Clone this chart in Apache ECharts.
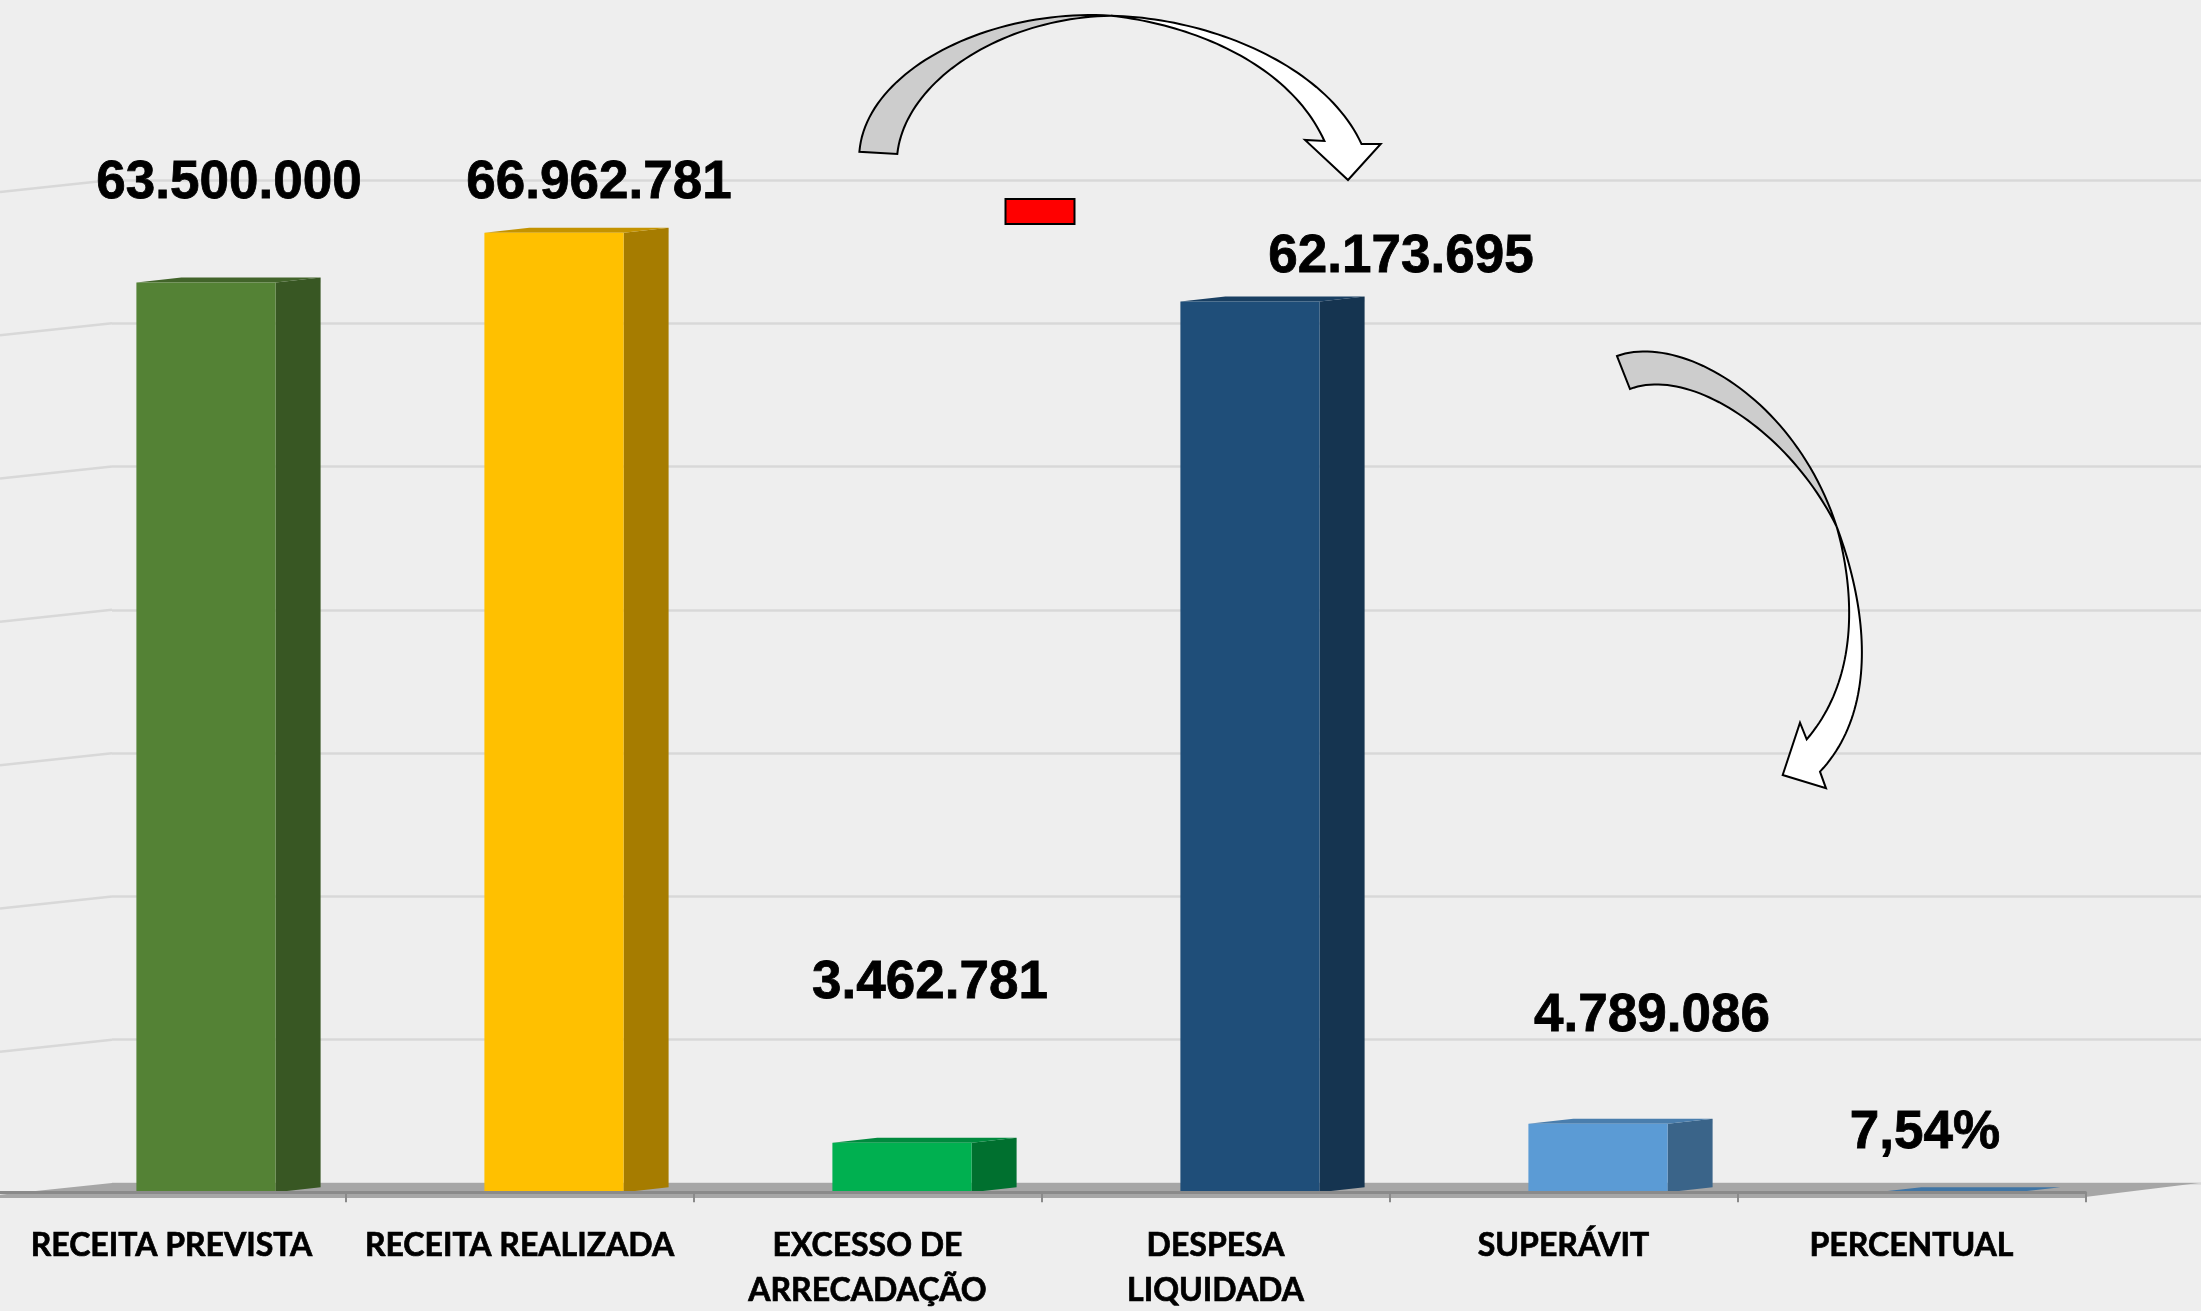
<!DOCTYPE html>
<html><head><meta charset="utf-8">
<style>html,body{margin:0;padding:0;background:#EEEEEE}#c{width:2201px;height:1311px}</style>
<script src="https://cdn.jsdelivr.net/npm/echarts@6/dist/echarts.min.js"></script>
</head><body><div id="c"></div>
<script>
// ---- data ----
const categories = ['RECEITA PREVISTA','RECEITA REALIZADA','EXCESSO DE\nARRECADAÇÃO','DESPESA\nLIQUIDADA','SUPERÁVIT','PERCENTUAL'];
const values = [63500000, 66962781, 3462781, 62173695, 4789086, 7.54];
const valueLabels = ['63.500.000','66.962.781','3.462.781','62.173.695','4.789.086','7,54%'];
const wallTicks = [0,10000000,20000000,30000000,40000000,50000000,60000000,70000000];

// ---- style / layout ----
const frontColors = ['#548235','#FFC000','#00B050','#1F4E79','#5B9BD5','#3F75A5'];
const sideColors  = ['#385723','#A67C00','#00702F','#153450','#3A6489','#3F75A5'];
const topColors   = ['#42642A','#C49300','#008A3E','#193F62','#4A7EAD','#3F75A5'];
const labelCenters = [[229,183],[599,183],[930,983],[1401,257],[1652,1016],[1925,1133]];
const DEPTH_X = 45, DEPTH_Y = 5, BAR_SHIFT = 34.5, BAR_RATIO = 0.4;
const WALL_DX = 112, WALL_DY = 12, FLOOR_DY = 12;

function bez(p0,p1,p2,p3){
  const out=[];
  for(let k=0;k<=48;k++){
    const t=k/48,u=1-t;
    out.push([0,1].map(j=>u*u*u*p0[j]+3*u*u*t*p1[j]+3*u*t*t*p2[j]+t*t*t*p3[j]));
  }
  return out;
}
function arrowShape(points,fill){
  return {type:'polygon',z:20,silent:true,shape:{points},style:{fill,stroke:'#000',lineWidth:2,lineJoin:'miter'}};
}
// first arrow
const a1Cross=[1111,15.7];
const a1GrayOuter=bez([859.4,151.7],[866,70],[990,8],a1Cross);
const a1GrayInner=bez(a1Cross,[1000,18],[905,82],[897.3,154]);
const a1WhiteOuter=bez(a1Cross,[1210,18],[1325,65],[1361.5,144]);
const a1Head=[[1380.7,144],[1348,180],[1305,140],[1324.4,141]];
const a1WhiteInner=bez([1324.4,141],[1290,65],[1195,25],a1Cross);
// second arrow
const a2Cross=[1836.7,526.7];
const a2GrayOuter=bez([1617,356],[1680,333],[1795,398],a2Cross);
const a2GrayInner=bez(a2Cross,[1790,432],[1690,366],[1630,389]);
const a2WhiteOuter=bez(a2Cross,[1868,610],[1878,710],[1820,771.7]);
const a2Head=[[1826,788.3],[1782.7,775],[1800,722.7],[1806.7,739.3]];
const a2WhiteInner=bez([1806.7,739.3],[1862,675],[1853,585],a2Cross);

const chart = echarts.init(document.getElementById('c'),null,{renderer:'canvas',width:2201,height:1311});

function renderWall(params,api){
  const v=api.value(0), p=api.coord([0,v]), x0=params.coordSys.x, x1=x0+params.coordSys.width;
  const children=[];
  if(v===0){
    const y=p[1];
    children.push({type:'polygon',shape:{points:[[-3,y+FLOOR_DY],[x0,y],[x1-2,y],[2085,y+FLOOR_DY+2],[2085,y+FLOOR_DY+3],[-3,y+FLOOR_DY+3]]},style:{fill:'#A6A6A6'}});
  } else {
    children.push({type:'line',shape:{x1:x0,y1:p[1],x2:x0-WALL_DX,y2:p[1]+WALL_DY},style:{stroke:'#D8D8D8',lineWidth:2.5}});
  }
  return {type:'group',children};
}
function renderBar(params,api){
  const i=api.value(0), base=api.coord([i,0]), top=api.coord([i,api.value(1)]);
  const w=api.size([1,0])[0]*BAR_RATIO;
  const l=base[0]+BAR_SHIFT-w/2, r=l+w, yT=top[1], yB=base[1];
  return {type:'group',children:[
    {type:'polygon',shape:{points:[[r,yT],[r+DEPTH_X,yT-DEPTH_Y],[r+DEPTH_X,yB-DEPTH_Y],[r,yB]]},style:{fill:sideColors[i]}},
    {type:'polygon',shape:{points:[[l,yT],[l+DEPTH_X,yT-DEPTH_Y],[r+DEPTH_X,yT-DEPTH_Y],[r,yT]]},style:{fill:topColors[i]}},
    {type:'rect',shape:{x:l,y:yT,width:w,height:yB-yT},style:{fill:frontColors[i]}}
  ]};
}
function renderLabel(params,api){
  const i=api.value(0);
  return {type:'text',z2:50,style:{text:valueLabels[i],x:labelCenters[i][0],y:labelCenters[i][1],fill:'#000',
    stroke:'#000',lineWidth:0.8,
    font:'bold 53px "Liberation Sans", Arial, sans-serif',align:'center',verticalAlign:'middle'}};
}

chart.setOption({
  animation:false,
  backgroundColor:'#EEEEEE',
  grid:[
    {left:WALL_DX,right:0,top:180,height:1003,outerBoundsMode:'none'},
    {left:-2.5,width:2088,top:189.3,height:1003,outerBoundsMode:'none'}
  ],
  xAxis:[
    {gridIndex:0,type:'category',data:categories,show:false},
    {gridIndex:1,type:'category',data:categories,offset:5,z:5,
     axisLine:{show:true,lineStyle:{color:'#8A8A8A',width:3}},
     axisTick:{show:true,alignWithLabel:false,length:10,lineStyle:{color:'#8A8A8A',width:2}},
     axisLabel:{interval:0,margin:26,color:'#000',fontFamily:'Lato',fontWeight:'bold',fontSize:32,lineHeight:45,hideOverlap:false,
       textBorderColor:'#000',textBorderWidth:0.7}}
  ],
  yAxis:[
    {gridIndex:0,type:'value',min:0,max:70000000,interval:10000000,
     axisLine:{show:false},axisTick:{show:false},axisLabel:{show:false},
     splitLine:{show:true,lineStyle:{color:'#D8D8D8',width:2.5}}},
    {gridIndex:1,type:'value',min:0,max:70000000,interval:10000000,show:false,splitLine:{show:false}}
  ],
  series:[
    {type:'custom',name:'wall',xAxisIndex:0,yAxisIndex:0,silent:true,clip:false,z:1,renderItem:renderWall,
     data:wallTicks.map(v=>[v]),encode:{y:0}},
    {type:'custom',name:'barras',xAxisIndex:1,yAxisIndex:1,clip:false,z:3,renderItem:renderBar,
     data:values.map((v,i)=>[i,v]),encode:{x:0,y:1}},
    {type:'custom',name:'rotulos',xAxisIndex:1,yAxisIndex:1,clip:false,z:10,renderItem:renderLabel,
     data:values.map((v,i)=>[i,v]),encode:{x:0,y:1}}
  ],
  graphic:{elements:[
    {type:'rect',z:20,silent:true,shape:{x:1005.5,y:199,width:69,height:25},style:{fill:'#FF0000',stroke:'#000',lineWidth:2}},
    arrowShape(a1GrayOuter.concat(a1GrayInner),'#CDCDCD'),
    arrowShape(a1WhiteOuter.concat(a1Head,a1WhiteInner),'#FFFFFF'),
    arrowShape(a2GrayOuter.concat(a2GrayInner),'#CDCDCD'),
    arrowShape(a2WhiteOuter.concat(a2Head,a2WhiteInner),'#FFFFFF')
  ]}
});
</script></body></html>
